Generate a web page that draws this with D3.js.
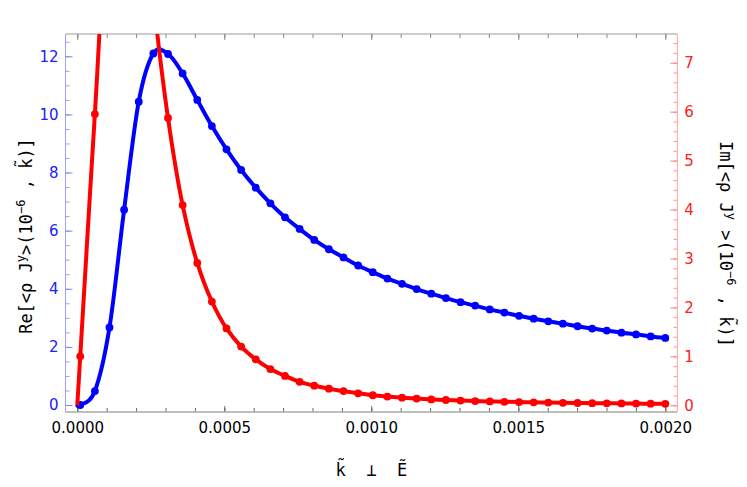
<!DOCTYPE html>
<html><head><meta charset="utf-8">
<script src="https://cdn.jsdelivr.net/npm/d3@7"></script>
<style>body{margin:0;background:#fff} svg{display:block}</style>
</head><body>
<svg id="c" width="747" height="487"></svg>
<script>
// ---- data ----
const kValues = [0.00001, 0.00005975, 0.0001095, 0.00015925, 0.000209, 0.00025875, 0.0003085, 0.00035825,
  0.000408, 0.00045775, 0.0005075, 0.00055725, 0.000607, 0.00065675, 0.0007065, 0.00075625, 0.000806,
  0.00085575, 0.0009055, 0.00095525, 0.001005, 0.00105475, 0.0011045, 0.00115425, 0.001204, 0.00125375,
  0.0013035, 0.00135325, 0.001403, 0.00145275, 0.0015025, 0.00155225, 0.001602, 0.00165175, 0.0017015,
  0.00175125, 0.001801, 0.00185075, 0.0019005, 0.00195025, 0.002];
const reValues = [0.0, 0.48, 2.67, 6.72, 10.44, 12.10, 12.08, 11.41, 10.50, 9.60, 8.80, 8.09, 7.48, 6.94,
  6.46, 6.06, 5.68, 5.36, 5.08, 4.80, 4.57, 4.35, 4.17, 3.99, 3.83, 3.68, 3.54, 3.42, 3.29, 3.18, 3.07,
  2.97, 2.88, 2.80, 2.71, 2.63, 2.56, 2.49, 2.43, 2.36, 2.31];
const imValues = [1.0, 5.95, 10.6, 12.6, 11.4, 8.3, 5.87, 4.09, 2.91, 2.12, 1.57, 1.20, 0.94, 0.74, 0.60,
  0.48, 0.40, 0.34, 0.29, 0.245, 0.205, 0.178, 0.156, 0.137, 0.121, 0.108, 0.097, 0.087, 0.079, 0.072,
  0.066, 0.060, 0.055, 0.051, 0.047, 0.044, 0.041, 0.038, 0.035, 0.033, 0.031];
const origin = {k: 0, re: 0, im: 0};   // curves start at the origin
const xMajorTicks = [0, 0.0005, 0.001, 0.0015, 0.002];
const xTickLabels = ["0.0000", "0.0005", "0.0010", "0.0015", "0.0020"];
const leftTicks = [0, 2, 4, 6, 8, 10, 12];
const leftTickLabels = ["0", "2", "4", "6", "8", "10", "12"];
const rightTicks = [0, 1, 2, 3, 4, 5, 6, 7];
const rightTickLabels = ["0", "1", "2", "3", "4", "5", "6", "7"];

// ---- layout ----
const svg = d3.select("#c");
const L = 65.5, R = 677.3, T = 34, B = 412;
const x = d3.scaleLinear().domain([0, 0.002]).range([77.3, 665.3]);
const yL = d3.scaleLinear().domain([0, 12]).range([405, 56.3]);
const yR = d3.scaleLinear().domain([0, 7]).range([405.3, 62.7]);

const BLUE = "#0000ff", RED = "#ff0000";
const tickFont = "'DejaVu Sans', sans-serif";
const monoFont = "'DejaVu Sans Mono', monospace";

svg.append("defs").append("clipPath").attr("id", "clip")
  .append("rect").attr("x", L).attr("y", T).attr("width", R - L).attr("height", B - T);

const xMinor = d3.range(0, 21).map(i => i * 0.0001);
const leftMinor = d3.range(0, 26).map(i => i * 0.5);
const rightMinor = d3.range(0, 38).map(i => i * 0.2);

function clean(g) { g.select(".domain").remove(); }

// bottom ticks (pointing up)
svg.append("g").attr("transform", `translate(0,${B})`)
  .call(d3.axisTop(x).tickValues(xMinor).tickSize(4).tickFormat(""))
  .call(clean).selectAll("line").attr("stroke", "#666");
svg.append("g").attr("transform", `translate(0,${B})`)
  .call(d3.axisTop(x).tickValues(xMajorTicks).tickSize(6).tickFormat(""))
  .call(clean).selectAll("line").attr("stroke", "#666");
// top ticks (pointing down)
svg.append("g").attr("transform", `translate(0,${T})`)
  .call(d3.axisBottom(x).tickValues(xMinor).tickSize(4).tickFormat(""))
  .call(clean).selectAll("line").attr("stroke", "#888");
svg.append("g").attr("transform", `translate(0,${T})`)
  .call(d3.axisBottom(x).tickValues(xMajorTicks).tickSize(6).tickFormat(""))
  .call(clean).selectAll("line").attr("stroke", "#888");
// bottom labels
const xl = svg.append("g").attr("transform", `translate(0,${B})`)
  .call(d3.axisBottom(x).tickValues(xMajorTicks).tickSize(0).tickPadding(10)
    .tickFormat((d, i) => xTickLabels[i]))
  .call(clean);
xl.selectAll("text").attr("font-family", tickFont).attr("font-size", 15).attr("fill", "#000");

// left ticks (pointing right)
svg.append("g").attr("transform", `translate(${L},0)`)
  .call(d3.axisRight(yL).tickValues(leftMinor.filter(v => yL(v) > T)).tickSize(4).tickFormat(""))
  .call(clean).selectAll("line").attr("stroke", "#9a9aff");
svg.append("g").attr("transform", `translate(${L},0)`)
  .call(d3.axisRight(yL).tickValues(leftTicks).tickSize(7).tickFormat(""))
  .call(clean).selectAll("line").attr("stroke", "#8080ff");
const yl = svg.append("g").attr("transform", `translate(${L},0)`)
  .call(d3.axisLeft(yL).tickValues(leftTicks).tickSize(0).tickPadding(7)
    .tickFormat((d, i) => leftTickLabels[i]))
  .call(clean);
yl.selectAll("text").attr("font-family", tickFont).attr("font-size", 15).attr("fill", "#2020ff");

// right ticks (pointing left)
svg.append("g").attr("transform", `translate(${R},0)`)
  .call(d3.axisLeft(yR).tickValues(rightMinor.filter(v => yR(v) > T)).tickSize(4).tickFormat(""))
  .call(clean).selectAll("line").attr("stroke", "#ff9a9a");
svg.append("g").attr("transform", `translate(${R},0)`)
  .call(d3.axisLeft(yR).tickValues(rightTicks).tickSize(7).tickFormat(""))
  .call(clean).selectAll("line").attr("stroke", "#ff8080");
const yr = svg.append("g").attr("transform", `translate(${R},0)`)
  .call(d3.axisRight(yR).tickValues(rightTicks).tickSize(0).tickPadding(7)
    .tickFormat((d, i) => rightTickLabels[i]))
  .call(clean);
yr.selectAll("text").attr("font-family", tickFont).attr("font-size", 15).attr("fill", "#ff2020");

// frame
svg.append("line").attr("x1", L).attr("x2", R).attr("y1", T).attr("y2", T).attr("stroke", "#9a9a9a").attr("stroke-width", 1);
svg.append("line").attr("x1", L).attr("x2", R).attr("y1", B).attr("y2", B).attr("stroke", "#a8a8a8").attr("stroke-width", 1.6);
svg.append("line").attr("x1", L).attr("x2", L).attr("y1", T).attr("y2", B).attr("stroke", "#a0a0ff").attr("stroke-width", 1);
svg.append("line").attr("x1", R).attr("x2", R).attr("y1", T).attr("y2", B).attr("stroke", "#ffa0a0").attr("stroke-width", 1);

// data
const pts = kValues.map((k, i) => ({k, re: reValues[i], im: imValues[i]}));
const linePts = [origin].concat(pts);
const plot = svg.append("g").attr("clip-path", "url(#clip)");

const reLine = d3.line().x(d => x(d.k)).y(d => yL(d.re)).curve(d3.curveCatmullRom.alpha(0));
const imLine = d3.line().x(d => x(d.k)).y(d => yR(d.im)).curve(d3.curveCatmullRom.alpha(0.5));

plot.append("path").datum(linePts).attr("d", reLine).attr("fill", "none")
  .attr("stroke", BLUE).attr("stroke-width", 4).attr("stroke-linejoin", "round");
plot.selectAll("circle.re").data(pts).join("circle").attr("class", "re")
  .attr("cx", d => x(d.k)).attr("cy", d => yL(d.re)).attr("r", 3.9).attr("fill", BLUE);
plot.append("path").datum(linePts).attr("d", imLine).attr("fill", "none")
  .attr("stroke", RED).attr("stroke-width", 4).attr("stroke-linejoin", "round");
plot.selectAll("circle.im").data(pts).join("circle").attr("class", "im")
  .attr("cx", d => x(d.k)).attr("cy", d => yR(d.im)).attr("r", 3.9).attr("fill", RED);

// axis titles
function title(sel, parts) {
  parts.forEach(p => {
    const t = sel.append("tspan").text(p.t);
    if (p.sup) t.attr("font-size", 12).attr("dy", -7);
    else if (p.after) t.attr("dy", 7);
  });
}
svg.append("text").attr("x", (L + R) / 2).attr("y", 476)
  .attr("text-anchor", "middle").attr("font-family", monoFont).attr("font-size", 17)
  .attr("fill", "#000").style("white-space", "pre").text("k\u0303  \u22A5  \u1EBC");

const lt = svg.append("text").attr("transform", "translate(31.5,236) rotate(-90)")
  .attr("text-anchor", "middle").attr("font-family", monoFont).attr("font-size", 17)
  .attr("fill", "#000").style("white-space", "pre");
title(lt, [{t: "Re[<\u03C1 J"}, {t: "y", sup: true}, {t: ">(10", after: true}, {t: "\u22126", sup: true}, {t: " , k\u0303)]", after: true}]);

const rt = svg.append("text").attr("transform", "translate(720,244) rotate(90)")
  .attr("text-anchor", "middle").attr("font-family", monoFont).attr("font-size", 17)
  .attr("fill", "#000").style("white-space", "pre");
title(rt, [{t: "Im[<\u03C1 J"}, {t: "y", sup: true}, {t: " >(10", after: true}, {t: "\u22126", sup: true}, {t: " , k\u0303)]", after: true}]);
</script>
</body></html>
